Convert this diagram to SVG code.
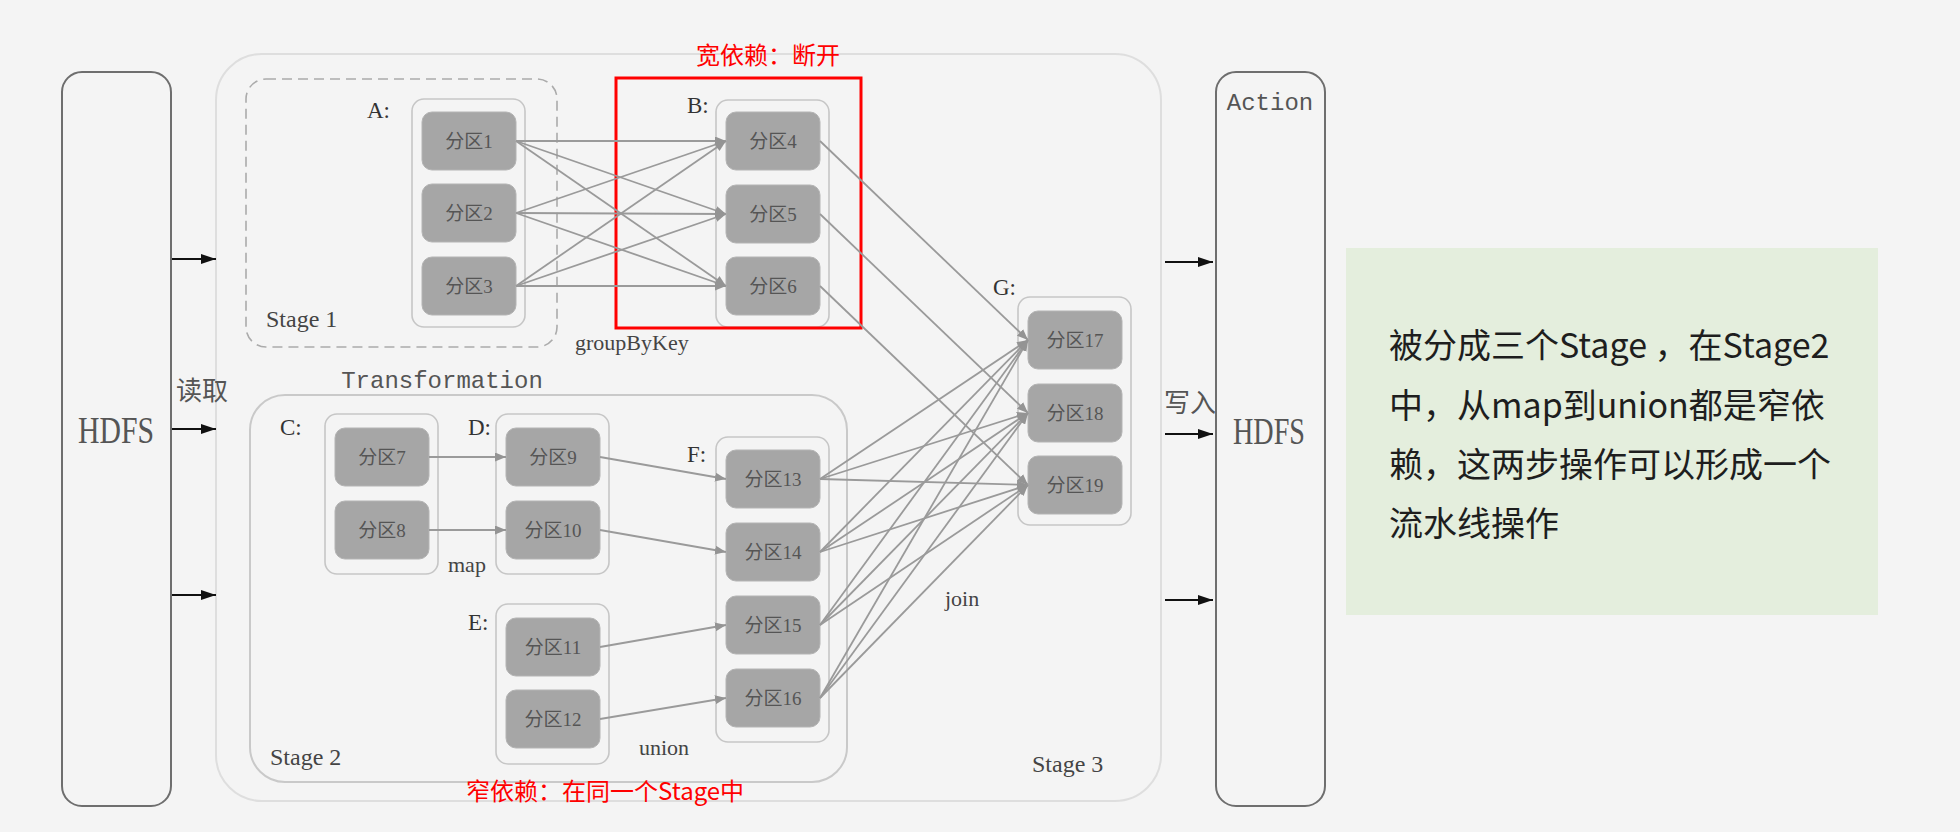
<svg xmlns="http://www.w3.org/2000/svg" width="1960" height="832" viewBox="0 0 1960 832">
<defs>
<style>
.bg{fill:#f4f4f4}
.hdfs{fill:#f4f4f4;stroke:#6e6e6e;stroke-width:2}
.outer{fill:#f4f4f4;stroke:#dedede;stroke-width:2}
.stage1{fill:none;stroke:#ababab;stroke-width:1.6;stroke-dasharray:10 6}
.stage2{fill:none;stroke:#c9c9c9;stroke-width:2}
.rdd{fill:none;stroke:#c6c6c6;stroke-width:1.6}
.part{fill:#a6a6a6;stroke:#b4b4b4;stroke-width:1}
.ptxt{font-family:"Liberation Serif","Noto Sans CJK SC",serif;font-size:19px;fill:#555;text-anchor:middle}
.lbl{font-family:"Liberation Serif","Noto Sans CJK SC",serif;font-size:23px;fill:#333}
.op{font-family:"Liberation Serif","Noto Sans CJK SC",serif;font-size:22px;fill:#444}
.stg{font-family:"Liberation Serif","Noto Sans CJK SC",serif;font-size:24px;fill:#444}
.mono{font-family:"Liberation Mono","Noto Sans CJK SC",monospace;font-size:24px;fill:#555}
.big{font-family:"Liberation Serif","Noto Sans CJK SC",serif;font-size:38px;fill:#555;text-anchor:middle}
.cjk{font-family:"Noto Sans CJK SC",sans-serif;font-size:26px;fill:#555}
.red{font-family:"Noto Sans CJK SC",sans-serif;font-size:24px;fill:#ff0000}
.note{font-family:"Noto Sans CJK SC",sans-serif;font-size:34px;fill:#1e1e1e}
.edge{stroke:#9a9a9a;stroke-width:1.8;fill:none;marker-end:url(#ga)}
.io{stroke:#111;stroke-width:2;fill:none;marker-end:url(#ba)}
</style>
<marker id="ga" markerUnits="userSpaceOnUse" markerWidth="11" markerHeight="9" refX="11" refY="4.5" orient="auto">
<path d="M0,0 L11,4.5 L0,9 z" fill="#949494"/>
</marker>
<marker id="ba" markerUnits="userSpaceOnUse" markerWidth="15" markerHeight="10" refX="15" refY="5" orient="auto">
<path d="M0,0 L15,5 L0,10 z" fill="#111"/>
</marker>
</defs>
<rect class="bg" x="0" y="0" width="1960" height="832"/>

<g id="hdfs-read">
<rect class="hdfs" x="62" y="72" width="109" height="734" rx="20"/>
<text class="big" x="116" y="443" textLength="76" lengthAdjust="spacingAndGlyphs">HDFS</text>
</g>

<g id="stage3">
<rect class="outer" x="216" y="54" width="945" height="747" rx="46"/>
<text class="stg" x="1032" y="772">Stage 3</text>
</g>

<g id="stage1">
<rect class="stage1" x="246" y="79" width="311" height="268" rx="20"/>
<text class="stg" x="266" y="327">Stage 1</text>
</g>

<g id="stage2">
<rect class="stage2" x="250" y="395" width="597" height="387" rx="35"/>
<text class="stg" x="270" y="765">Stage 2</text>
</g>

<text class="mono" x="442" y="388" text-anchor="middle">Transformation</text>
<text class="cjk" x="176" y="400">读取</text>
<text class="cjk" x="1164" y="412">写入</text>

<g id="rdd-A">
<text class="lbl" x="367" y="118">A:</text>
<rect class="rdd" x="412" y="99" width="113" height="228" rx="12"/>
<g id="p1"><rect class="part" x="422" y="112" width="94" height="58" rx="10"/><text class="ptxt" x="469" y="148">分区1</text></g>
<g id="p2"><rect class="part" x="422" y="184" width="94" height="58" rx="10"/><text class="ptxt" x="469" y="220">分区2</text></g>
<g id="p3"><rect class="part" x="422" y="257" width="94" height="58" rx="10"/><text class="ptxt" x="469" y="293">分区3</text></g>
</g>

<g id="rdd-B">
<text class="lbl" x="687" y="113">B:</text>
<rect class="rdd" x="716" y="100" width="113" height="227" rx="12"/>
<g id="p4"><rect class="part" x="726" y="112" width="94" height="58" rx="10"/><text class="ptxt" x="773" y="148">分区4</text></g>
<g id="p5"><rect class="part" x="726" y="185" width="94" height="58" rx="10"/><text class="ptxt" x="773" y="221">分区5</text></g>
<g id="p6"><rect class="part" x="726" y="257" width="94" height="58" rx="10"/><text class="ptxt" x="773" y="293">分区6</text></g>
</g>

<g id="rdd-C">
<text class="lbl" x="280" y="435">C:</text>
<rect class="rdd" x="325" y="414" width="113" height="160" rx="12"/>
<g id="p7"><rect class="part" x="335" y="428" width="94" height="58" rx="10"/><text class="ptxt" x="382" y="464">分区7</text></g>
<g id="p8"><rect class="part" x="335" y="501" width="94" height="58" rx="10"/><text class="ptxt" x="382" y="537">分区8</text></g>
</g>

<g id="rdd-D">
<text class="lbl" x="468" y="435">D:</text>
<rect class="rdd" x="496" y="414" width="113" height="160" rx="12"/>
<g id="p9"><rect class="part" x="506" y="428" width="94" height="58" rx="10"/><text class="ptxt" x="553" y="464">分区9</text></g>
<g id="p10"><rect class="part" x="506" y="501" width="94" height="58" rx="10"/><text class="ptxt" x="553" y="537">分区10</text></g>
</g>

<g id="rdd-E">
<text class="lbl" x="468" y="630">E:</text>
<rect class="rdd" x="496" y="604" width="113" height="160" rx="12"/>
<g id="p11"><rect class="part" x="506" y="618" width="94" height="58" rx="10"/><text class="ptxt" x="553" y="654">分区11</text></g>
<g id="p12"><rect class="part" x="506" y="690" width="94" height="58" rx="10"/><text class="ptxt" x="553" y="726">分区12</text></g>
</g>

<g id="rdd-F">
<text class="lbl" x="687" y="462">F:</text>
<rect class="rdd" x="716" y="437" width="113" height="305" rx="12"/>
<g id="p13"><rect class="part" x="726" y="450" width="94" height="58" rx="10"/><text class="ptxt" x="773" y="486">分区13</text></g>
<g id="p14"><rect class="part" x="726" y="523" width="94" height="58" rx="10"/><text class="ptxt" x="773" y="559">分区14</text></g>
<g id="p15"><rect class="part" x="726" y="596" width="94" height="58" rx="10"/><text class="ptxt" x="773" y="632">分区15</text></g>
<g id="p16"><rect class="part" x="726" y="669" width="94" height="58" rx="10"/><text class="ptxt" x="773" y="705">分区16</text></g>
</g>

<g id="rdd-G">
<text class="lbl" x="993" y="295">G:</text>
<rect class="rdd" x="1018" y="297" width="113" height="228" rx="12"/>
<g id="p17"><rect class="part" x="1028" y="311" width="94" height="58" rx="10"/><text class="ptxt" x="1075" y="347">分区17</text></g>
<g id="p18"><rect class="part" x="1028" y="384" width="94" height="58" rx="10"/><text class="ptxt" x="1075" y="420">分区18</text></g>
<g id="p19"><rect class="part" x="1028" y="456" width="94" height="58" rx="10"/><text class="ptxt" x="1075" y="492">分区19</text></g>
</g>

<g id="op-labels">
<text class="op" x="575" y="350">groupByKey</text>
<text class="op" x="448" y="572">map</text>
<text class="op" x="639" y="755">union</text>
<text class="op" x="945" y="606">join</text>
</g>

<g id="hdfs-write">
<rect class="hdfs" x="1216" y="72" width="109" height="734" rx="20"/>
<text class="mono" x="1270" y="110" text-anchor="middle" font-size="23">Action</text>
<text class="big" x="1269" y="444" textLength="72" lengthAdjust="spacingAndGlyphs">HDFS</text>
</g>

<g id="wide-dep">
<rect x="616" y="78" width="245" height="250" fill="none" stroke="#ff0000" stroke-width="3"/>
<text class="red" x="768" y="64" text-anchor="middle">宽依赖：断开</text>
</g>
<text id="narrow-dep" class="red" x="466" y="800">窄依赖：在同一个Stage中</text>

<g id="note">
<rect x="1346" y="248" width="532" height="367" fill="#e4eedd"/>
<text class="note" x="1389" y="358">被分成三个Stage ，在Stage2</text>
<text class="note" x="1389" y="418">中，从map到union都是窄依</text>
<text class="note" x="1389" y="477">赖，这两步操作可以形成一个</text>
<text class="note" x="1389" y="536">流水线操作</text>
</g>

<g id="connectors">
<line class="io" x1="172" y1="259" x2="216" y2="259"/>
<line class="io" x1="172" y1="429" x2="216" y2="429"/>
<line class="io" x1="172" y1="595" x2="216" y2="595"/>
<line class="io" x1="1165" y1="262" x2="1213" y2="262"/>
<line class="io" x1="1165" y1="434" x2="1213" y2="434"/>
<line class="io" x1="1165" y1="600" x2="1213" y2="600"/>

<line class="edge" x1="516" y1="141" x2="726" y2="141"/>
<line class="edge" x1="516" y1="141" x2="726" y2="214"/>
<line class="edge" x1="516" y1="141" x2="726" y2="286"/>
<line class="edge" x1="516" y1="213" x2="726" y2="141"/>
<line class="edge" x1="516" y1="213" x2="726" y2="214"/>
<line class="edge" x1="516" y1="213" x2="726" y2="286"/>
<line class="edge" x1="516" y1="286" x2="726" y2="141"/>
<line class="edge" x1="516" y1="286" x2="726" y2="214"/>
<line class="edge" x1="516" y1="286" x2="726" y2="286"/>

<line class="edge" x1="820" y1="141" x2="1028" y2="340"/>
<line class="edge" x1="820" y1="214" x2="1028" y2="413"/>
<line class="edge" x1="820" y1="286" x2="1028" y2="485"/>

<line class="edge" x1="429" y1="457" x2="506" y2="457"/>
<line class="edge" x1="429" y1="530" x2="506" y2="530"/>
<line class="edge" x1="600" y1="457" x2="726" y2="479"/>
<line class="edge" x1="600" y1="530" x2="726" y2="552"/>
<line class="edge" x1="600" y1="647" x2="726" y2="625"/>
<line class="edge" x1="600" y1="719" x2="726" y2="698"/>

<line class="edge" x1="820" y1="479" x2="1028" y2="340"/>
<line class="edge" x1="820" y1="479" x2="1028" y2="413"/>
<line class="edge" x1="820" y1="479" x2="1028" y2="485"/>
<line class="edge" x1="820" y1="552" x2="1028" y2="340"/>
<line class="edge" x1="820" y1="552" x2="1028" y2="413"/>
<line class="edge" x1="820" y1="552" x2="1028" y2="485"/>
<line class="edge" x1="820" y1="625" x2="1028" y2="340"/>
<line class="edge" x1="820" y1="625" x2="1028" y2="413"/>
<line class="edge" x1="820" y1="625" x2="1028" y2="485"/>
<line class="edge" x1="820" y1="698" x2="1028" y2="340"/>
<line class="edge" x1="820" y1="698" x2="1028" y2="413"/>
<line class="edge" x1="820" y1="698" x2="1028" y2="485"/>
</g>
</svg>
